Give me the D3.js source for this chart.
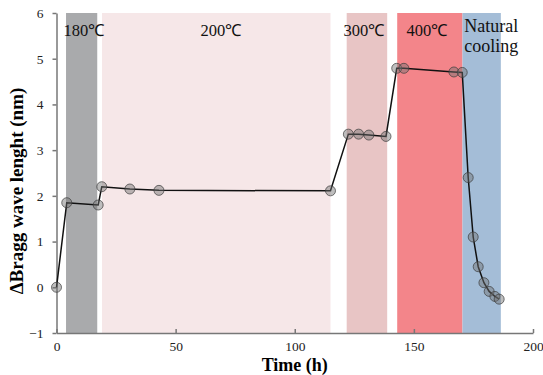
<!DOCTYPE html>
<html>
<head>
<meta charset="utf-8">
<script src="https://cdn.jsdelivr.net/npm/d3@7"></script>
<style>
  body { margin: 0; background: #fff; }
  svg text { font-family: "Liberation Serif", "Times New Roman", serif; }
  .axis path, .axis line { stroke: #777; stroke-width: 1.5px; }
  .axis text { font-size: 13.5px; fill: #222; }
</style>
</head>
<body>
<div id="chart"></div>
<script>
// measured points: time (h) and delta Bragg wavelength (nm)
let times = [0, 4.3, 17.5, 19, 30.8, 43, 115, 122.5, 126.8, 131.1, 138.3,
  142.8, 145.8, 166.8, 170.3, 172.8, 174.9, 177, 179.4, 181.6, 184, 185.8];
let shifts = [0, 1.85, 1.8, 2.2, 2.15, 2.12, 2.11, 3.35, 3.35, 3.33, 3.3,
  4.79, 4.79, 4.71, 4.7, 2.4, 1.1, 0.45, 0.1, -0.09, -0.2, -0.26];

// temperature stages
let stageNames = ["180℃", "200℃", "300℃", "400℃", "Natural cooling"];
let stageStart = [4, 19.1, 121.8, 143, 170.4];
let stageEnd = [17.1, 115, 138.8, 170.4, 186.5];
let stageLabelAt = [11.5, 69, 129, 155.5, 182.5];
let stageColors = ["#a9aaac", "#f6e7e8", "#e8c5c5", "#f3858a", "#a4bdd7"];

let xTicks = [0, 50, 100, 150, 200];
let yTicks = [-1, 0, 1, 2, 3, 4, 5, 6];

let width = 543;
let height = 375;
let margin = { top: 13, right: 10, bottom: 42, left: 56.5 };

let xScale = d3.scaleLinear()
  .domain([0, 200])
  .range([margin.left, width - margin.right]);

let yScale = d3.scaleLinear()
  .domain([-1, 6])
  .range([height - margin.bottom, margin.top]);

let svg = d3.select("#chart")
  .append("svg")
  .attr("width", width)
  .attr("height", height);

/* stage bands */
svg.append("g")
  .selectAll("rect")
  .data(stageNames)
  .enter()
  .append("rect")
  .attr("x", (d, i) => xScale(stageStart[i]))
  .attr("width", (d, i) => xScale(stageEnd[i]) - xScale(stageStart[i]))
  .attr("y", yScale(6))
  .attr("height", yScale(-1) - yScale(6))
  .style("fill", (d, i) => stageColors[i]);

/* stage labels */
let labels = svg.append("g")
  .style("fill", "#111");

labels.selectAll("text")
  .data(stageNames)
  .enter()
  .append("text")
  .attr("text-anchor", "middle")
  .attr("x", (d, i) => xScale(stageLabelAt[i]))
  .attr("y", 36)
  .style("font-size", (d, i) => i == 4 ? "18px" : "16.5px")
  .each(function(d, i) {
    let parts = d.split(" ");
    if (parts.length == 1) {
      d3.select(this).text(d);
    } else {
      d3.select(this).attr("y", 32);
      parts.forEach((p, k) => {
        d3.select(this).append("tspan")
          .attr("x", xScale(stageLabelAt[i]))
          .attr("dy", k == 0 ? 0 : 20)
          .text(p);
      });
    }
  });

/* axes */
let xAxis = d3.axisBottom(xScale).tickValues(xTicks).tickSize(-4).tickPadding(8).tickSizeOuter(0);
let yAxis = d3.axisLeft(yScale).tickValues(yTicks).tickFormat(d3.format("d"))
  .tickSize(4).tickPadding(9).tickSizeOuter(0);

svg.append("g")
  .attr("class", "x axis")
  .attr("transform", `translate(0, ${yScale(-1)})`)
  .call(xAxis);

svg.append("g")
  .attr("class", "y axis")
  .attr("transform", `translate(${xScale(0)}, 0)`)
  .call(yAxis);

svg.selectAll(".axis").attr("font-family", null);

/* line */
let pts = times.map((t, i) => ({ t: t, v: shifts[i] }));

let line = d3.line()
  .x(d => xScale(d.t))
  .y(d => yScale(d.v));

svg.append("path")
  .attr("d", line(pts))
  .style("fill", "none")
  .style("stroke", "#111")
  .style("stroke-width", "1.5px");

svg.append("g")
  .selectAll("circle")
  .data(pts)
  .enter()
  .append("circle")
  .attr("cx", d => xScale(d.t))
  .attr("cy", d => yScale(d.v))
  .attr("r", 5)
  .style("fill", "rgba(110,110,110,0.45)")
  .style("stroke", "rgba(60,60,60,0.7)")
  .style("stroke-width", "1px");

/* axis titles */
svg.append("text")
  .attr("x", (xScale(0) + xScale(200)) / 2)
  .attr("y", 371)
  .attr("text-anchor", "middle")
  .style("font-weight", "bold")
  .style("font-size", "18px")
  .text("Time (h)");

svg.append("text")
  .attr("transform", `translate(23, ${(yScale(-1) + yScale(6)) / 2 + 18}) rotate(-90)`)
  .attr("text-anchor", "middle")
  .style("font-weight", "bold")
  .style("font-size", "19px")
  .text("ΔBragg wave lenght (nm)");
</script>
</body>
</html>
